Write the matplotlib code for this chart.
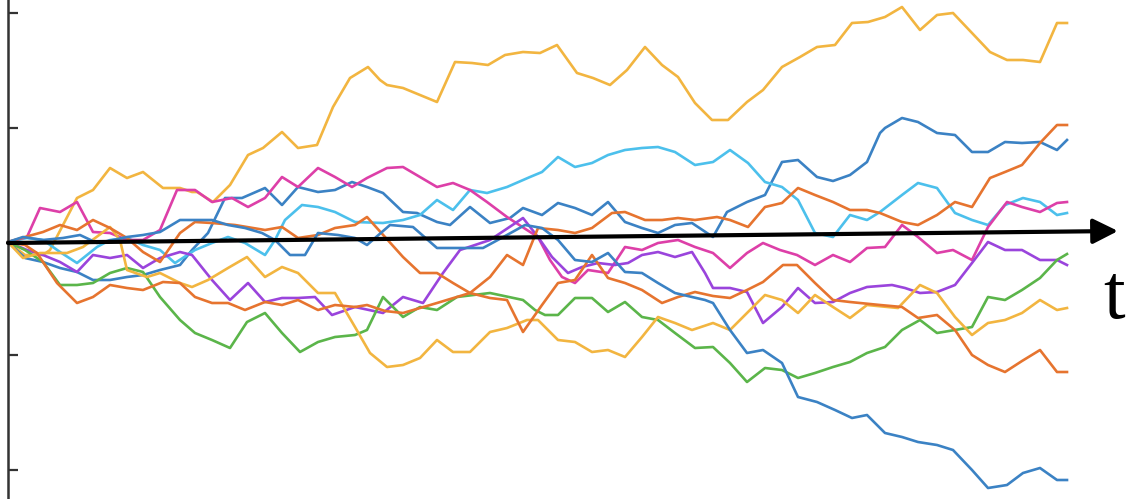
import matplotlib
matplotlib.use("Agg")
import matplotlib.pyplot as plt

# random-walk paths: time steps and height above the t axis
t_y1 = [0, 17, 35, 42, 69, 85, 102, 119, 135, 155, 172, 184, 189, 205, 222, 240, 255, 274, 290, 309, 325, 342, 360, 372, 379, 395, 412, 429, 447, 464, 480, 497, 515, 532, 549, 569, 585, 602, 619, 637, 654, 670, 687, 704, 720, 739, 755, 774, 792, 809, 827, 844, 860, 877, 894, 912, 929, 945, 964, 982, 999, 1015, 1032, 1049, 1059]
v_y1 = [0, -13, -13, -8, 44, 52, 74, 64, 70, 54, 54, 50, 50, 40, 57, 87, 94, 110, 94, 97, 135, 164, 175, 162, 157, 154, 147, 140, 180, 179, 177, 187, 190, 189, 197, 169, 164, 157, 172, 195, 177, 165, 139, 122, 122, 140, 152, 175, 185, 195, 197, 219, 220, 225, 235, 212, 227, 229, 209, 190, 182, 182, 180, 219, 219]

t_b1 = [0, 17, 35, 52, 69, 85, 102, 119, 135, 152, 172, 184, 200, 217, 234, 257, 274, 290, 310, 327, 344, 359, 375, 395, 409, 429, 442, 462, 482, 502, 515, 534, 550, 567, 584, 600, 617, 634, 650, 667, 684, 705, 719, 739, 757, 774, 790, 809, 825, 842, 859, 872, 877, 894, 910, 929, 947, 964, 980, 997, 1014, 1032, 1049, 1059]
v_b1 = [0, -16, -20, -26, -30, -38, -38, -35, -33, -28, -23, -8, 9, 44, 44, 54, 37, 55, 50, 52, 60, 55, 49, 30, 29, 20, 17, 35, 19, 24, 34, 27, 39, 34, 27, 40, 20, 14, 9, 17, 19, 5, 30, 40, 47, 80, 82, 65, 61, 67, 80, 109, 114, 124, 120, 109, 107, 90, 90, 100, 99, 100, 92, 102]

t_b2 = [0, 15, 35, 55, 72, 89, 105, 119, 135, 152, 172, 187, 204, 220, 237, 254, 267, 282, 297, 310, 330, 347, 359, 382, 405, 429, 452, 475, 499, 517, 534, 550, 567, 584, 600, 617, 634, 650, 667, 684, 697, 705, 722, 739, 755, 774, 790, 809, 827, 844, 859, 877, 894, 910, 929, 945, 964, 980, 999, 1015, 1032, 1049, 1059]
v_b2 = [0, 5, 2, 4, 7, -1, 2, 5, 7, 10, 22, 22, 22, 17, 14, 9, 2, -13, -13, 9, 7, 4, -3, 17, 15, -6, -6, -6, 7, 17, 14, 2, -18, -20, -11, -30, -31, -41, -51, -55, -58, -61, -88, -111, -108, -121, -155, -160, -168, -176, -173, -191, -195, -200, -203, -208, -228, -246, -243, -231, -226, -238, -238]

t_c = [0, 19, 35, 52, 69, 89, 102, 119, 135, 152, 167, 187, 204, 220, 237, 257, 267, 277, 294, 310, 327, 347, 375, 395, 412, 429, 445, 462, 479, 499, 522, 534, 550, 567, 584, 600, 617, 634, 650, 667, 687, 705, 722, 740, 757, 774, 790, 807, 825, 842, 859, 872, 894, 910, 929, 947, 964, 980, 997, 1015, 1032, 1049, 1059]
v_c = [0, 4, 2, -10, -21, -5, 2, 4, -3, -8, -21, -8, -1, 5, -1, -13, 2, 22, 37, 35, 30, 20, 19, 22, 27, 42, 32, 52, 49, 55, 65, 70, 85, 75, 79, 87, 92, 94, 95, 90, 77, 80, 92, 79, 60, 55, 42, 9, 5, 27, 22, 30, 47, 59, 54, 29, 22, 17, 37, 44, 40, 27, 29]

t_m = [0, 19, 32, 52, 69, 85, 102, 119, 135, 152, 169, 187, 204, 224, 240, 257, 274, 290, 310, 327, 344, 359, 379, 395, 412, 429, 445, 462, 479, 499, 519, 530, 542, 554, 567, 580, 600, 617, 634, 650, 670, 687, 705, 722, 739, 755, 772, 789, 807, 825, 842, 859, 877, 894, 910, 929, 945, 964, 980, 999, 1014, 1032, 1049, 1059]
v_m = [0, 5, 34, 30, 40, 10, 9, 2, 2, 12, 52, 52, 40, 44, 35, 44, 65, 55, 74, 65, 55, 64, 74, 75, 65, 55, 59, 52, 40, 25, 12, 5, -18, -35, -41, -28, -31, -5, -8, -1, 2, -5, -11, -26, -11, -1, -8, -13, -23, -13, -20, -6, -5, 17, 5, -11, -8, -18, 15, 40, 35, 30, 39, 40]

t_p = [0, 19, 35, 52, 69, 85, 102, 119, 135, 152, 172, 184, 204, 222, 240, 257, 274, 290, 307, 324, 347, 375, 395, 415, 435, 452, 482, 515, 530, 544, 560, 574, 590, 607, 620, 634, 650, 667, 684, 697, 705, 722, 739, 755, 774, 790, 807, 825, 842, 859, 884, 897, 912, 929, 947, 964, 980, 997, 1014, 1032, 1049, 1059]
v_p = [0, -8, -13, -20, -30, -13, -16, -13, -26, -16, -10, -13, -38, -58, -41, -60, -56, -56, -55, -73, -65, -71, -55, -61, -31, -8, 2, 24, 5, -15, -31, -25, -21, -23, -21, -13, -10, -15, -10, -31, -46, -46, -50, -81, -65, -46, -61, -60, -51, -45, -43, -46, -51, -50, -43, -21, 0, -8, -8, -18, -18, -23]

t_g = [0, 17, 35, 52, 69, 85, 102, 119, 135, 152, 172, 187, 204, 222, 239, 257, 274, 292, 310, 327, 347, 359, 375, 395, 412, 429, 449, 482, 515, 527, 537, 550, 567, 584, 600, 617, 634, 650, 667, 687, 705, 722, 739, 757, 774, 790, 807, 825, 842, 859, 877, 894, 912, 929, 947, 964, 980, 997, 1014, 1032, 1049, 1059]
v_g = [0, -8, -20, -43, -43, -41, -31, -26, -30, -55, -78, -91, -98, -106, -80, -71, -91, -110, -100, -95, -93, -88, -55, -75, -65, -68, -55, -51, -58, -68, -73, -73, -56, -56, -70, -60, -75, -78, -91, -106, -105, -121, -140, -126, -128, -136, -131, -125, -120, -111, -105, -88, -78, -91, -88, -85, -55, -58, -48, -36, -18, -12]

t_y2 = [0, 15, 32, 59, 75, 102, 112, 119, 139, 152, 172, 184, 200, 220, 239, 257, 274, 290, 310, 327, 347, 362, 379, 395, 412, 429, 445, 462, 482, 499, 519, 530, 550, 567, 584, 600, 617, 634, 650, 667, 684, 705, 722, 739, 757, 774, 790, 807, 825, 842, 859, 890, 912, 929, 947, 964, 980, 997, 1014, 1032, 1049, 1059]
v_y2 = [0, -16, -11, -11, -5, 15, 2, -28, -35, -31, -41, -45, -38, -26, -15, -35, -25, -31, -51, -51, -85, -111, -125, -123, -116, -98, -110, -110, -90, -86, -78, -78, -98, -100, -110, -108, -115, -95, -75, -81, -88, -81, -88, -71, -53, -58, -71, -53, -65, -76, -63, -66, -43, -51, -75, -93, -81, -78, -71, -58, -68, -66]

t_o1 = [0, 17, 29, 49, 69, 85, 102, 119, 135, 155, 172, 187, 204, 220, 237, 257, 274, 290, 310, 327, 347, 359, 377, 395, 429, 462, 482, 499, 515, 530, 550, 567, 584, 604, 617, 637, 654, 670, 687, 709, 722, 740, 757, 774, 790, 807, 825, 842, 859, 872, 894, 910, 929, 947, 964, 982, 997, 1014, 1032, 1049, 1059]
v_o1 = [0, -3, -11, -41, -61, -55, -43, -46, -48, -40, -41, -55, -61, -61, -68, -60, -63, -58, -68, -63, -65, -63, -69, -71, -61, -51, -35, -13, -23, 14, 12, 9, 14, 29, 30, 22, 22, 24, 22, 25, 22, 15, 35, 39, 54, 47, 40, 32, 32, 29, 20, 17, 27, 40, 35, 64, 70, 77, 99, 117, 117]

t_o2 = [0, 17, 35, 52, 69, 85, 102, 119, 135, 152, 172, 187, 204, 227, 257, 274, 290, 310, 327, 347, 359, 377, 395, 412, 429, 445, 462, 482, 499, 515, 534, 550, 567, 584, 600, 617, 634, 654, 670, 687, 705, 722, 739, 755, 775, 789, 807, 825, 842, 872, 894, 910, 929, 947, 964, 980, 997, 1014, 1032, 1049, 1059]
v_o2 = [0, 5, 10, 17, 12, 22, 14, 4, -10, -20, 9, 20, 19, 17, 12, 15, 4, 7, 14, 17, 25, 5, -15, -31, -31, -41, -51, -56, -58, -90, -63, -41, -38, -13, -36, -41, -48, -61, -55, -50, -54, -56, -48, -40, -23, -23, -41, -58, -60, -63, -65, -76, -73, -88, -113, -123, -130, -119, -108, -130, -130]

yellow = "#F2B540"
blue = "#3B82C4"
cyan = "#4CC0EC"
orange = "#E6742F"
magenta = "#DD3FA8"
purple = "#9A44DC"
green = "#5BB54A"

paths = [
    (t_y1, v_y1, yellow),
    (t_b1, v_b1, blue),
    (t_c, v_c, cyan),
    (t_m, v_m, magenta),
    (t_p, v_p, purple),
    (t_g, v_g, green),
    (t_y2, v_y2, yellow),
    (t_o1, v_o1, orange),
    (t_o2, v_o2, orange),
    (t_b2, v_b2, blue),
]

tick_vals = [229, 114, 0, -113, -228]

fig = plt.figure(figsize=(11.29, 4.99), dpi=100)
ax = fig.add_axes([0, 0, 1, 1])

for t, v, col in paths:
    ax.plot(t, v, color=col, lw=1.9)

ax.set_xlim(-8, 1121)
ax.set_ylim(-257, 242)
for side in ["top", "right", "bottom"]:
    ax.spines[side].set_visible(False)
ax.spines["left"].set_position(("data", 0))
ax.spines["left"].set_linewidth(1.8)
ax.spines["left"].set_color("#333333")
ax.set_xticks([])
ax.set_yticks(tick_vals)
ax.set_yticklabels([])
ax.tick_params(axis="y", direction="in", length=7, width=1.6, color="#333333")

# time axis arrow (slightly tilted in the original)
ax.annotate("", xy=(1110, 11), xytext=(0, -1),
            arrowprops=dict(arrowstyle="-|>", lw=3, color="black",
                            mutation_scale=38, shrinkA=0, shrinkB=0))
ax.text(1095, -76, "t", fontsize=56, family="Liberation Serif",
        va="baseline", ha="left", color="black")

fig.savefig("out.png", dpi=100)
